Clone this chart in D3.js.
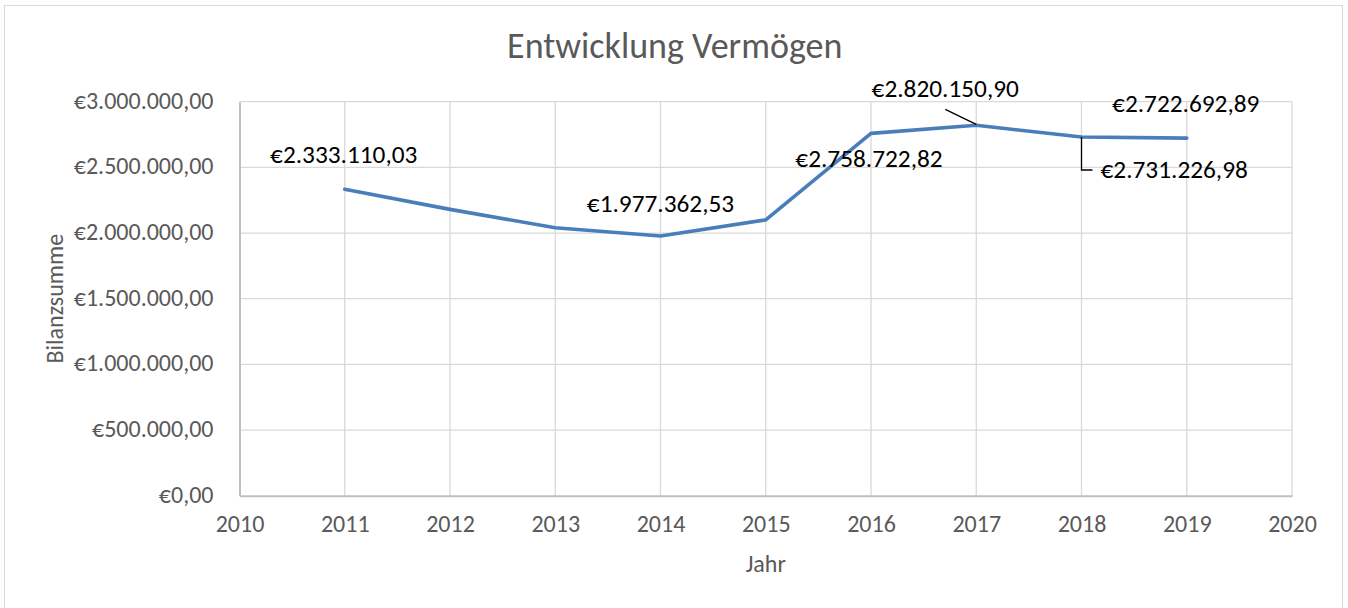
<!DOCTYPE html>
<html>
<head>
<meta charset="utf-8">
<script src="https://cdn.jsdelivr.net/npm/d3@7"></script>
<style>
  body { margin: 0; background: #fff; }
  svg text { font-family: Calibri, Carlito, "Open Sans", sans-serif; }
  .axis-text { fill: #595959; }
</style>
</head>
<body>
<div id="chart"></div>
<script>
// data
var years = [2011, 2012, 2013, 2014, 2015, 2016, 2017, 2018, 2019];
var values = [2333110.03, 2180000, 2040000, 1977362.53, 2100000, 2758722.82, 2820150.90, 2731226.98, 2722692.89];
var labelledYears = [2011, 2014, 2016, 2017, 2018, 2019];
var yTicks = [0, 500000, 1000000, 1500000, 2000000, 2500000, 3000000];
var xTicks = [2010, 2011, 2012, 2013, 2014, 2015, 2016, 2017, 2018, 2019, 2020];

// label placement (pixel offsets from the point), like moved Excel labels
var labelPlacement = {
    2011: { dx: -1, dy: -26, anchor: "middle" },
    2014: { dx: 0, dy: -24, anchor: "middle" },
    2016: { dx: -2, dy: 34, anchor: "middle" },
    2017: { dx: -31, dy: -28, anchor: "middle", leader: "diag" },
    2018: { dx: 19, dy: 41, anchor: "start", leader: "elbow" },
    2019: { dx: -1, dy: -26, anchor: "middle" }
};

var W = 1348, H = 608;
var plot = { left: 239.5, right: 1292, top: 101.7, bottom: 495.7 };

var de = d3.formatLocale({ decimal: ",", thousands: ".", grouping: [3], currency: ["€", ""] });
var fmt = de.format("$,.2f");

var svg = d3.select("#chart").append("svg")
    .attr("width", W)
    .attr("height", H);

// chart border
svg.append("rect")
    .attr("x", 4.5).attr("y", 5.5)
    .attr("width", 1338).attr("height", 620)
    .attr("fill", "#fff")
    .attr("stroke", "#d9d9d9");

var x = d3.scaleLinear().domain([2010, 2020]).range([plot.left, plot.right]);
var y = d3.scaleLinear().domain([0, 3000000]).range([plot.bottom, plot.top]);

// gridlines
svg.append("g").selectAll("line.hg").data(yTicks.slice(1)).enter()
    .append("line")
    .attr("x1", plot.left).attr("x2", plot.right)
    .attr("y1", function(d){ return y(d); }).attr("y2", function(d){ return y(d); })
    .attr("stroke", "#d9d9d9").attr("stroke-width", 1.3);

svg.append("g").selectAll("line.vg").data(xTicks.slice(1)).enter()
    .append("line")
    .attr("y1", plot.top).attr("y2", plot.bottom)
    .attr("x1", function(d){ return x(d); }).attr("x2", function(d){ return x(d); })
    .attr("stroke", "#d9d9d9").attr("stroke-width", 1.3);

// axes
var xAxis = d3.axisBottom(x).tickValues(xTicks).tickFormat(d3.format("d")).tickSize(0).tickPadding(19);
var yAxis = d3.axisLeft(y).tickValues(yTicks).tickFormat(fmt).tickSize(0).tickPadding(26);

var gx = svg.append("g")
    .attr("transform", "translate(0," + plot.bottom + ")")
    .call(xAxis);
var gy = svg.append("g")
    .attr("transform", "translate(" + plot.left + ",0)")
    .call(yAxis);

[gx, gy].forEach(function(g){
    g.select(".domain").attr("stroke", "#bfbfbf").attr("stroke-width", 2);
    g.selectAll("text")
        .attr("class", "axis-text")
        .style("font-size", "24px");
});
gy.selectAll("text").attr("dy", "0.27em");

// line
var line = d3.line()
    .x(function(d, i){ return x(years[i]); })
    .y(function(d){ return y(d); });

svg.append("path")
    .datum(values)
    .attr("fill", "none")
    .attr("stroke", "#4a7ebb")
    .attr("stroke-width", 3.6)
    .attr("stroke-linejoin", "round")
    .attr("stroke-linecap", "round")
    .attr("d", line);

// data labels
labelledYears.forEach(function(yr){
    var i = years.indexOf(yr);
    var px = x(yr), py = y(values[i]);
    var p = labelPlacement[yr];
    svg.append("text")
        .attr("x", px + p.dx)
        .attr("y", py + p.dy)
        .attr("text-anchor", p.anchor)
        .style("font-size", "25.3px")
        .attr("fill", "#000")
        .text(fmt(values[i]));
    if (p.leader === "diag") {
        svg.append("line")
            .attr("x1", px).attr("y1", py - 1)
            .attr("x2", px + p.dx).attr("y2", py + p.dy + 12)
            .attr("stroke", "#000").attr("stroke-width", 1.3);
    }
    if (p.leader === "elbow") {
        svg.append("path")
            .attr("d", "M" + px + "," + py + "V" + (py + p.dy - 8) + "H" + (px + p.dx - 8))
            .attr("fill", "none")
            .attr("stroke", "#000").attr("stroke-width", 1.3);
    }
});

// title
svg.append("text")
    .attr("x", (plot.left + plot.right) / 2 - 91)
    .attr("y", 58)
    .attr("text-anchor", "middle")
    .attr("class", "axis-text")
    .style("font-size", "36px")
    .text("Entwicklung Vermögen");

// axis titles
svg.append("text")
    .attr("x", (plot.left + plot.right) / 2)
    .attr("y", 572)
    .attr("text-anchor", "middle")
    .attr("class", "axis-text")
    .style("font-size", "24px")
    .text("Jahr");

svg.append("text")
    .attr("transform", "translate(63," + ((plot.top + plot.bottom) / 2) + ") rotate(-90)")
    .attr("text-anchor", "middle")
    .attr("class", "axis-text")
    .style("font-size", "24px")
    .text("Bilanzsumme");
</script>
</body>
</html>
